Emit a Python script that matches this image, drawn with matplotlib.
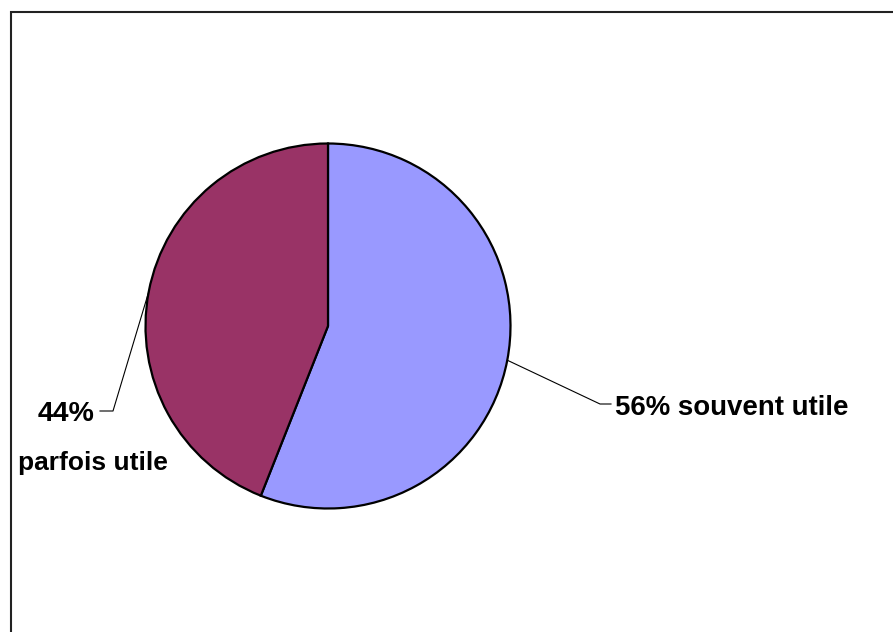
import numpy as np
import matplotlib.pyplot as plt
from matplotlib.patches import Rectangle

labels = ["souvent utile", "parfois utile"]
shares = [56, 44]
colors = ["#9999FF", "#993366"]

W, H = 893, 632
fig = plt.figure(figsize=(W / 100, H / 100), dpi=100)
ax = fig.add_axes([0, 0, 1, 1])
ax.set_xlim(0, W)
ax.set_ylim(0, H)
ax.set_aspect("equal")
ax.axis("off")

# chart area border (runs off the right and bottom edges)
ax.add_patch(Rectangle((11, -10), W + 20, H - 12 + 10, fill=False,
                       edgecolor="#222222", linewidth=1.5))

cx, cy, r = 328, H - 326, 182.5
wedges, _ = ax.pie(shares, colors=colors, startangle=90, counterclock=False,
                   center=(cx, cy), radius=r,
                   wedgeprops=dict(edgecolor="black", linewidth=1.6))
ax.set_xlim(0, W)
ax.set_ylim(0, H)

font = dict(family="Liberation Sans", fontweight="bold", color="black")

def edge_point(w):
    a = np.deg2rad((w.theta1 + w.theta2) / 2)
    return cx + r * np.cos(a), cy + r * np.sin(a)

# souvent utile
x0, y0 = edge_point(wedges[0])
ax.plot([x0, 600, 611], [y0, H - 404, H - 404], color="black", lw=0.8)
ax.text(615, H - 415, f"{shares[0]}% {labels[0]}", ha="left", va="baseline",
        fontsize=19.9, **font)

# parfois utile
x0, y0 = edge_point(wedges[1])
ax.plot([x0, 113, 100], [y0, H - 411, H - 411], color="black", lw=0.8)
ax.text(38, H - 421, f"{shares[1]}%", ha="left", va="baseline", fontsize=20.5, **font)
ax.text(18, H - 470, labels[1], ha="left", va="baseline", fontsize=19, **font)

fig.savefig("out.png", dpi=100)
